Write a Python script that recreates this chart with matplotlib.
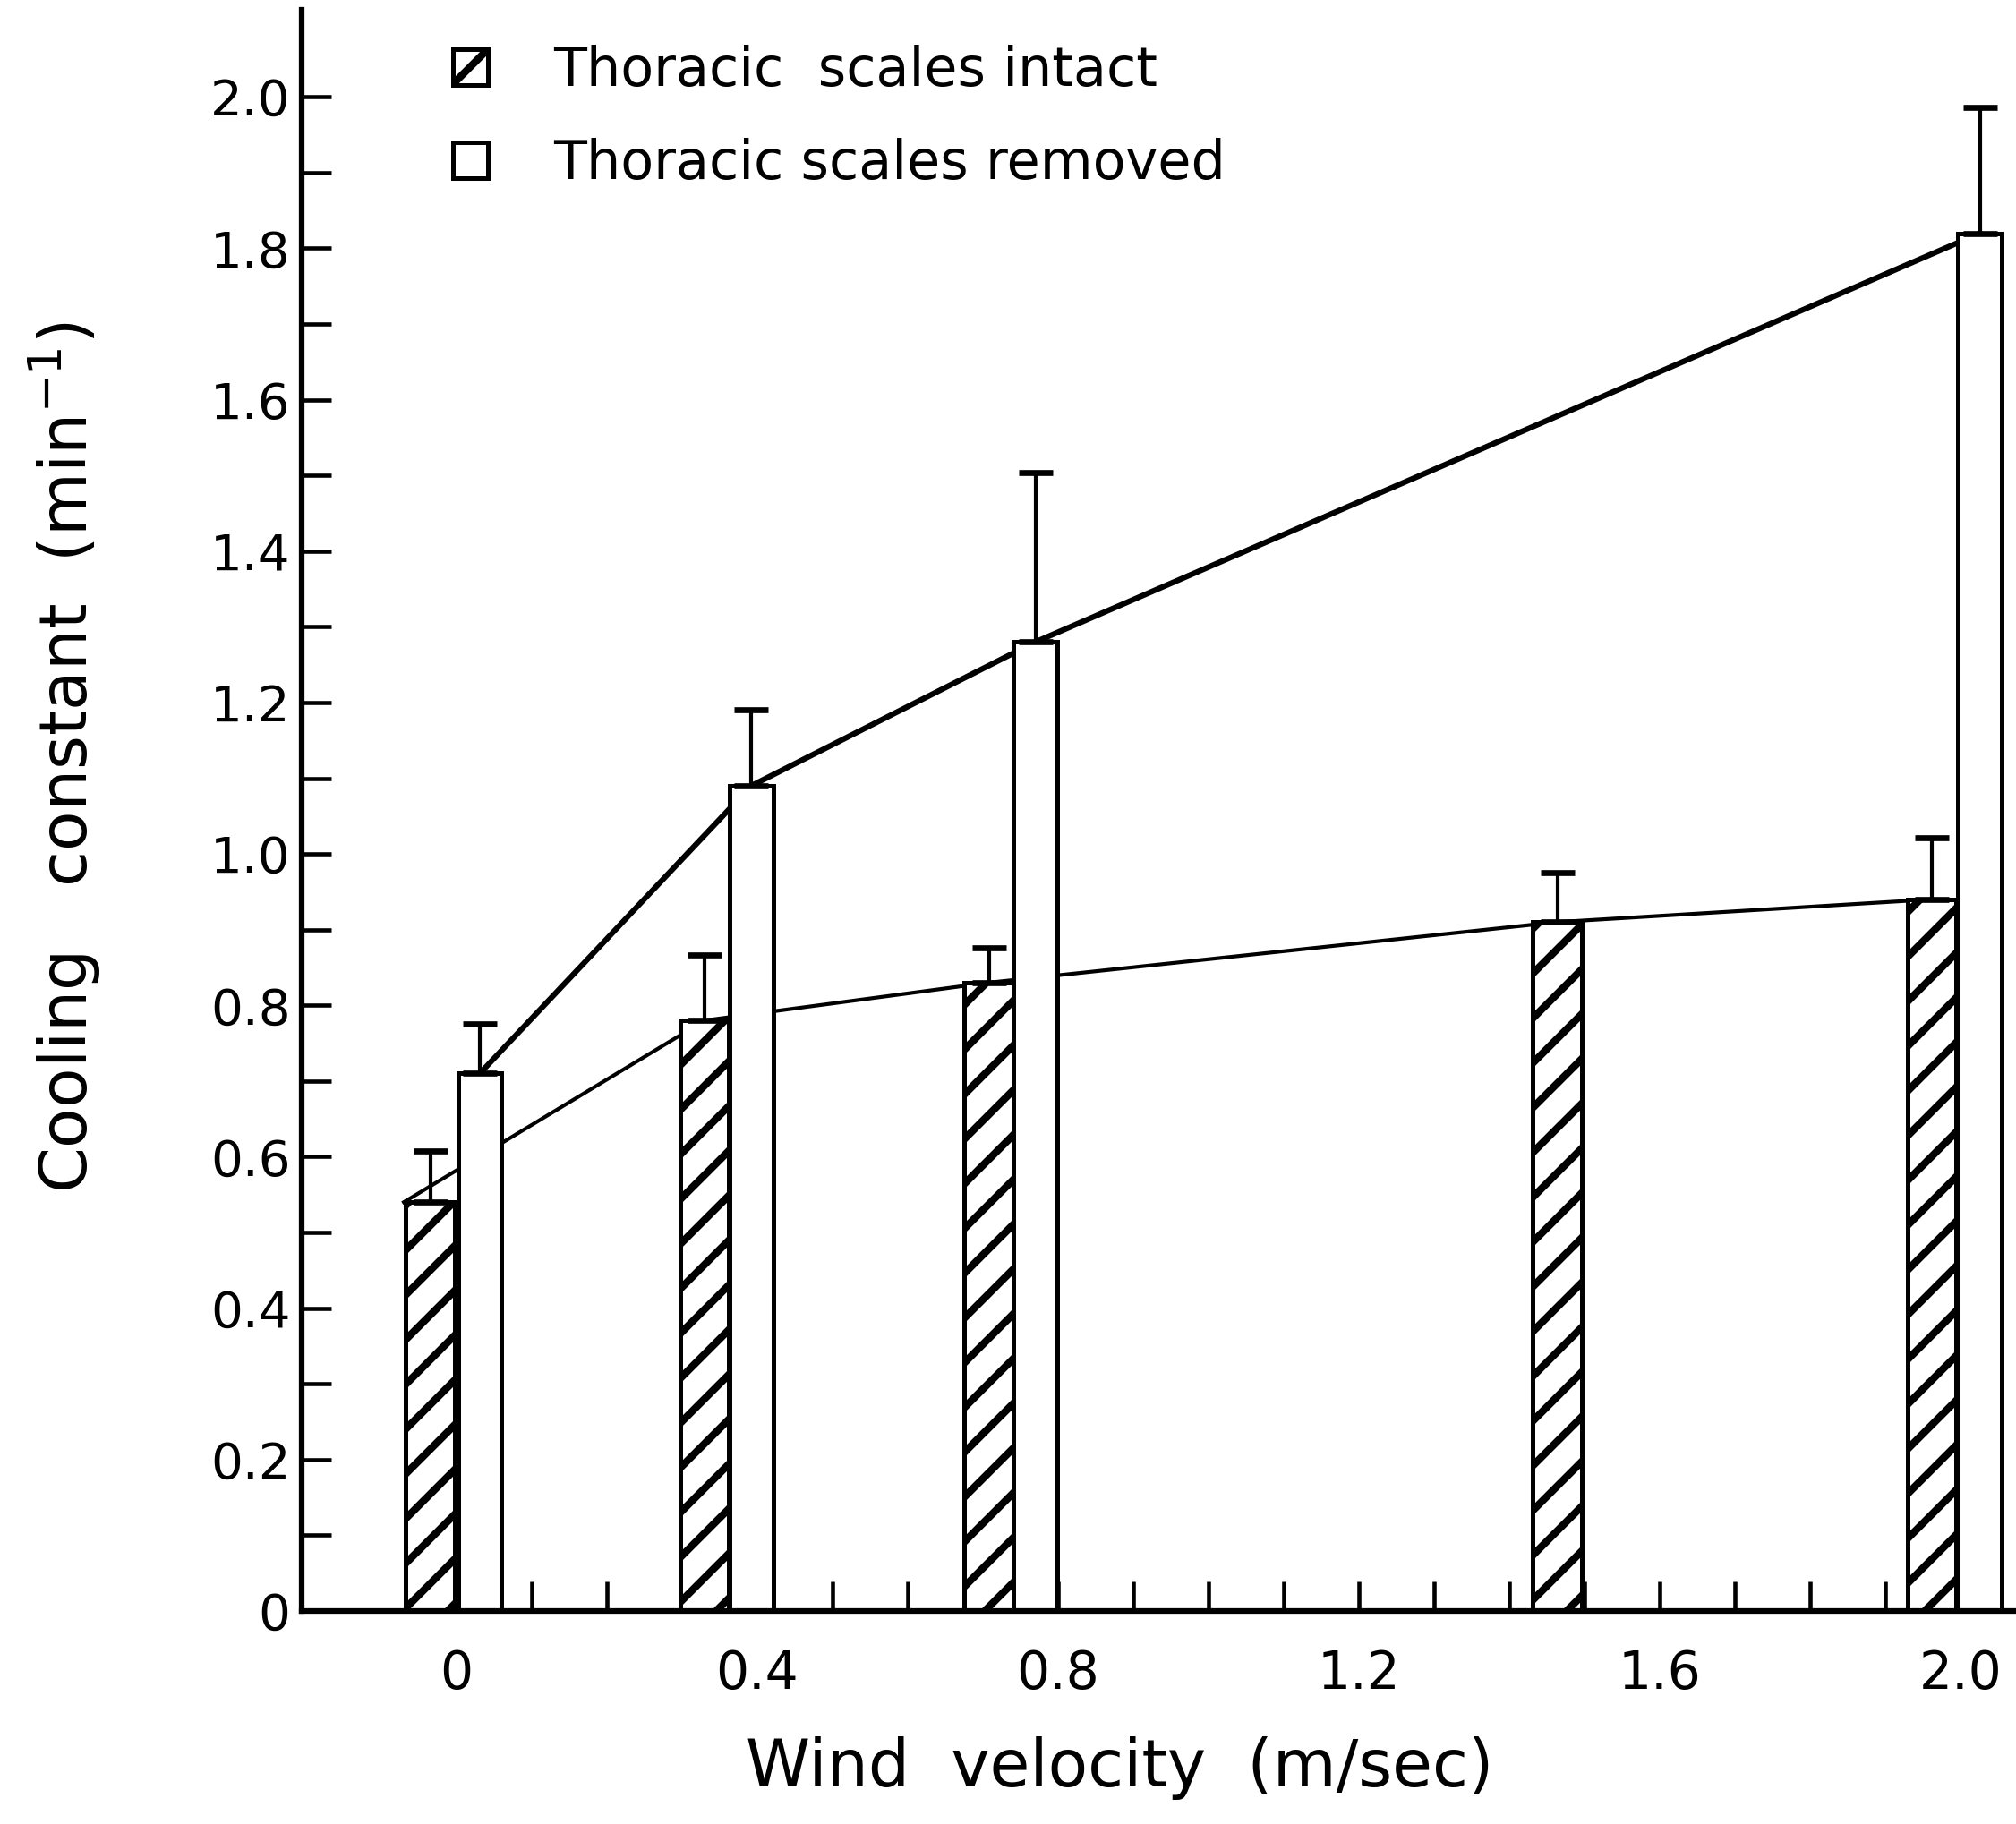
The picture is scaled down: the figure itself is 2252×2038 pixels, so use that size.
import matplotlib
matplotlib.use("Agg")
import matplotlib.pyplot as plt
from matplotlib.patches import Patch

# positions of the bars along the wind-velocity axis (m/sec)
intact_x = [-0.035, 0.33, 0.708, 1.464, 1.962]
intact_k = [0.54, 0.78, 0.83, 0.91, 0.94]
intact_err = [0.068, 0.087, 0.046, 0.065, 0.082]

removed_x = [0.031, 0.392, 0.77, 2.026]
removed_k = [0.71, 1.09, 1.28, 1.82]
removed_err = [0.066, 0.10, 0.224, 0.166]

# hand-drawn lines joining the bar tops
intact_line_x = [-0.07, 0.33, 0.708, 1.464, 1.962]
intact_line_y = [0.54, 0.78, 0.83, 0.91, 0.94]
removed_line_x = [0.031, 0.392, 0.77, 2.026]
removed_line_y = [0.71, 1.09, 1.28, 1.82]

y_ticks = [0, 0.2, 0.4, 0.6, 0.8, 1.0, 1.2, 1.4, 1.6, 1.8, 2.0]
y_labels = ["0", "0.2", "0.4", "0.6", "0.8", "1.0", "1.2", "1.4", "1.6", "1.8", "2.0"]
x_ticks = [0, 0.4, 0.8, 1.2, 1.6, 2.0]
x_labels = ["0", "0.4", "0.8", "1.2", "1.6", "2.0"]

plt.rcParams["hatch.linewidth"] = 2.0
plt.rcParams["font.family"] = "DejaVu Sans"

fig = plt.figure(figsize=(2252 / 300, 2038 / 300), dpi=300)
ax = fig.add_axes([0.1496, 0.1168, 0.8504, 0.8778])

ax.plot(intact_line_x, intact_line_y, color="black", lw=1.0, zorder=1)
ax.plot(removed_line_x, removed_line_y, color="black", lw=1.5, zorder=1)

ax.bar(intact_x, intact_k, width=0.065, facecolor="white", edgecolor="black",
       hatch="//", linewidth=1.2, zorder=2)
ax.bar(removed_x, removed_k, width=0.058, facecolor="white", edgecolor="black",
       linewidth=1.2, zorder=2)

ax.errorbar(intact_x, intact_k, yerr=[[0] * len(intact_err), intact_err],
            fmt="none", ecolor="black", elinewidth=1.0, capsize=4.5,
            capthick=1.6, zorder=3)
ax.errorbar(removed_x, removed_k, yerr=[[0] * len(removed_err), removed_err],
            fmt="none", ecolor="black", elinewidth=1.0, capsize=4.5,
            capthick=1.6, zorder=3)

ax.set_xlim(-0.206, 2.074)
ax.set_ylim(0, 2.115)

ax.spines["top"].set_visible(False)
ax.spines["right"].set_visible(False)
ax.spines["left"].set_linewidth(1.5)
ax.spines["bottom"].set_linewidth(1.5)

ax.set_yticks(y_ticks)
ax.set_yticklabels(y_labels)
ax.set_yticks([v / 10 for v in range(1, 21, 2)], minor=True)
ax.set_xticks(x_ticks)
ax.set_xticklabels(x_labels)
ax.set_xticks([v / 10 for v in range(1, 21) if v % 4 != 0], minor=True)

ax.tick_params(axis="y", which="both", direction="in", length=8, width=1.1,
               labelsize=13.5, pad=3)
ax.tick_params(axis="x", which="both", direction="in", length=8, width=1.1,
               labelsize=14, pad=10)

ax.set_ylabel("Cooling   constant  (min$^{-1}$)", fontsize=17.5)
ax.yaxis.set_label_coords(-0.116, 0.533)
ax.set_xlabel("Wind  velocity  (m/sec)", fontsize=17.5)
ax.xaxis.set_label_coords(0.477, -0.078)

handles = [
    Patch(facecolor="white", edgecolor="black", hatch="/", linewidth=1.2),
    Patch(facecolor="white", edgecolor="black", linewidth=1.2),
]
fig.legend(handles, ["Thoracic  scales intact", "Thoracic scales removed"],
           loc="upper left", bbox_to_anchor=(506 / 2252, 1 - 50 / 2038),
           frameon=False, fontsize=14.5, handlelength=0.65, handleheight=0.65,
           handletextpad=1.2, labelspacing=0.75, borderpad=0, borderaxespad=0)

fig.savefig("out.png", dpi=300)
